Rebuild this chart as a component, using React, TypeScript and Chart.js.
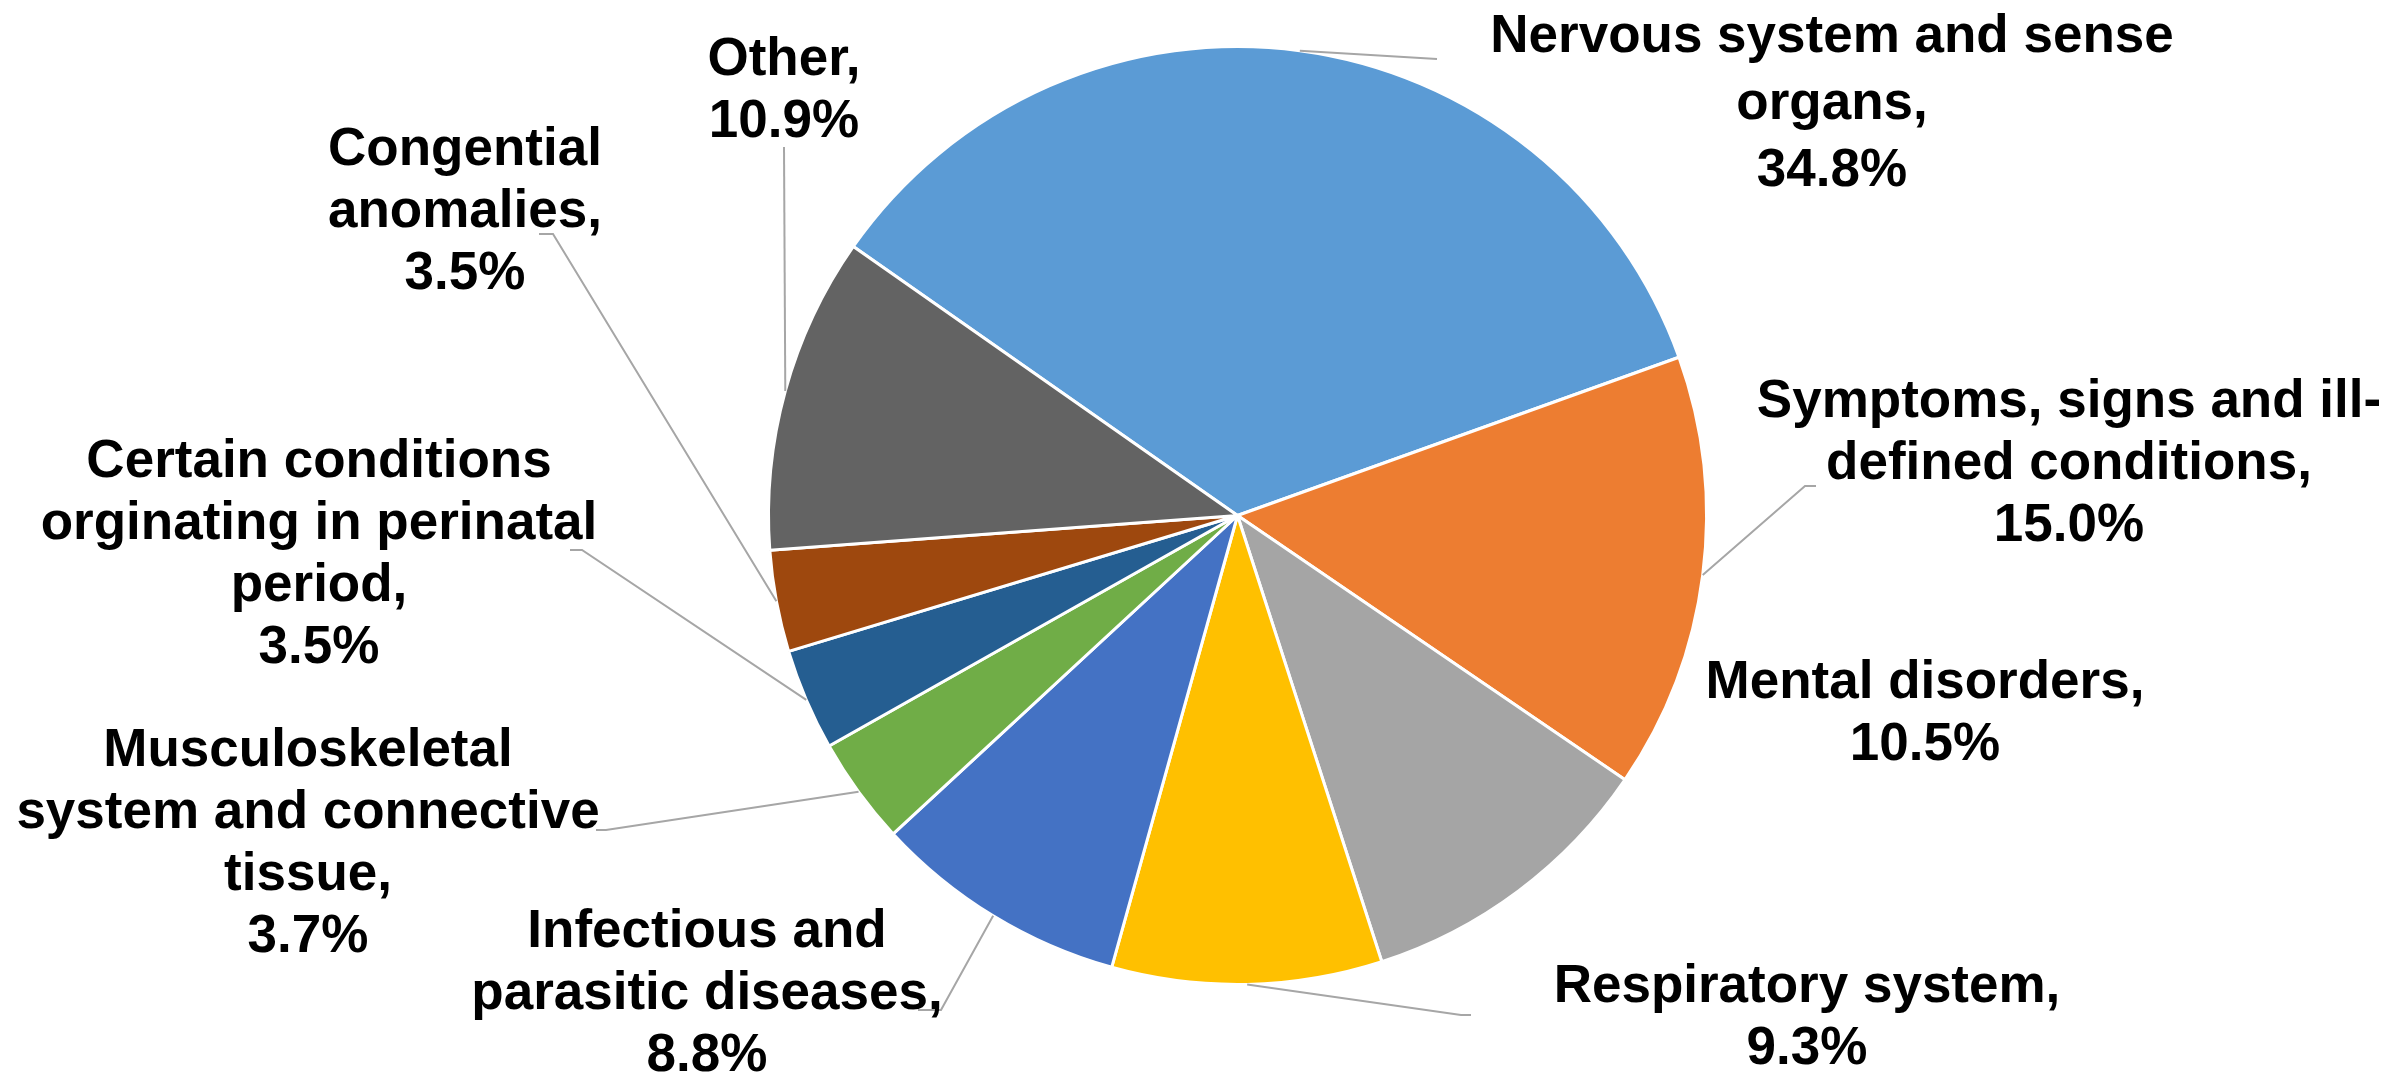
import React, { useEffect, useRef } from "react";
import { Chart, registerables } from "chart.js";

Chart.register(...registerables);

// ---- Data ----
const CATEGORIES = [
  "Nervous system and sense\norgans",
  "Symptoms, signs and ill-\ndefined conditions",
  "Mental disorders",
  "Respiratory system",
  "Infectious and\nparasitic diseases",
  "Musculoskeletal\nsystem and connective\ntissue",
  "Certain conditions\norginating in perinatal\nperiod",
  "Congential\nanomalies",
  "Other",
];
const VALUES = [34.8, 15.0, 10.5, 9.3, 8.8, 3.7, 3.5, 3.5, 10.9];

// ---- Styles ----
const COLORS = [
  "#5B9BD5",
  "#ED7D31",
  "#A5A5A5",
  "#FFC000",
  "#4472C4",
  "#70AD47",
  "#255E91",
  "#9E480E",
  "#636363",
];

// Label placement relative to the pie centre (px): text centre x, first baseline y,
// optional line height, and leader-line bend points (line starts on the slice's outer edge).
const LABEL_LAYOUT: { dx: number; dy: number; lh?: number; leader: number[][] }[] = [
  { dx: 594.5, dy: -463.5, lh: 67, leader: [[199.5, -456.5]] },
  { dx: 831.5, dy: -98.5, leader: [[567.5, -29.5], [578.5, -29.5]] },
  { dx: 687.5, dy: 182.5, leader: [] },
  { dx: 569.5, dy: 486.5, leader: [[223.5, 499.5], [233.5, 499.5]] },
  { dx: -530.5, dy: 431.5, leader: [[-296.5, 494.5], [-319.5, 494.5]] },
  { dx: -929.5, dy: 250.5, leader: [[-631.5, 314.5], [-641.5, 314.5]] },
  { dx: -918.5, dy: -38.5, leader: [[-655.5, 34.5], [-667.5, 34.5]] },
  { dx: -772.5, dy: -350.5, leader: [[-684.5, -281.5], [-698.5, -281.5]] },
  { dx: -453.5, dy: -440.5, leader: [[-453.5, -368.5]] },
];

const FONT = 'bold 53px "Liberation Sans", Arial, sans-serif';
const LINE_HEIGHT = 62;
const LEADER_COLOR = "#A6A6A6";

const outsideLabels = {
  id: "outsideLabels",
  afterDatasetsDraw(chart: any) {
    const ctx = chart.ctx as CanvasRenderingContext2D;
    const meta = chart.getDatasetMeta(0);
    const values = chart.data.datasets[0].data as number[];
    const labels = chart.data.labels as string[];
    ctx.save();
    meta.data.forEach((arc: any, i: number) => {
      const p = arc.getProps(["x", "y", "startAngle", "endAngle", "outerRadius"], true);
      const mid = (p.startAngle + p.endAngle) / 2;
      const layout = LABEL_LAYOUT[i];
      if (layout.leader.length) {
        ctx.beginPath();
        ctx.strokeStyle = LEADER_COLOR;
        ctx.lineWidth = 2;
        ctx.moveTo(p.x + Math.cos(mid) * p.outerRadius, p.y + Math.sin(mid) * p.outerRadius);
        layout.leader.forEach(([lx, ly]) => ctx.lineTo(p.x + lx, p.y + ly));
        ctx.stroke();
      }
      const lines = (labels[i] + ",").split("\n");
      lines.push(values[i].toFixed(1) + "%");
      const lh = layout.lh ?? LINE_HEIGHT;
      ctx.font = FONT;
      ctx.fillStyle = "#000000";
      ctx.textAlign = "center";
      ctx.textBaseline = "alphabetic";
      lines.forEach((ln, k) => {
        ctx.fillText(ln, p.x + layout.dx, p.y + layout.dy + k * lh);
      });
    });
    ctx.restore();
  },
};

export default function App() {
  const canvasRef = useRef<HTMLCanvasElement | null>(null);

  useEffect(() => {
    document.body.style.margin = "0";
    const canvas = canvasRef.current;
    if (!canvas) return;
    const chart = new Chart(canvas, {
      type: "pie",
      data: {
        labels: CATEGORIES,
        datasets: [
          {
            data: VALUES,
            backgroundColor: COLORS,
            borderColor: "#FFFFFF",
            borderWidth: 3,
            radius: 469,
          } as any,
        ],
      },
      options: {
        responsive: false,
        animation: false,
        devicePixelRatio: 1,
        events: [],
        rotation: -55,
        layout: {
          padding: { left: 769.5, right: 686.5, top: 47.5, bottom: 90.5 },
        },
        plugins: {
          legend: { display: false },
          tooltip: { enabled: false },
        },
      },
      plugins: [outsideLabels],
    });
    return () => chart.destroy();
  }, []);

  return (
    <div style={{ width: 2392, height: 1074, background: "#FFFFFF" }}>
      <canvas ref={canvasRef} width={2392} height={1074} style={{ display: "block" }} />
    </div>
  );
}
